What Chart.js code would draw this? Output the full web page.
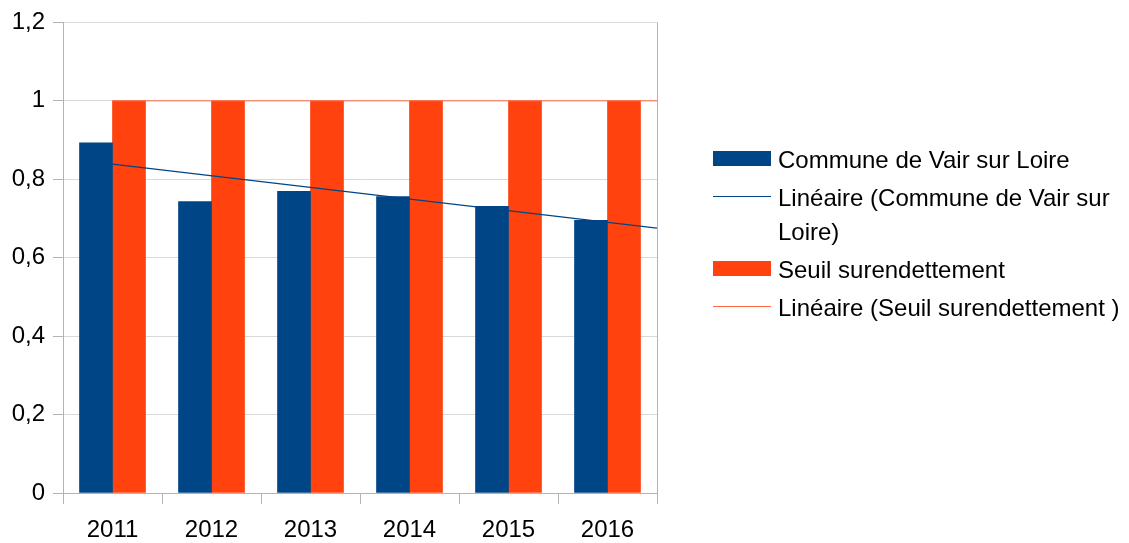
<!DOCTYPE html>
<html>
<head>
<meta charset="utf-8">
<script src="https://cdn.jsdelivr.net/npm/chart.js@4"></script>
<style>
  html, body { margin: 0; padding: 0; background: #fff; }
  #wrap { width: 1129px; height: 543px; }
</style>
</head>
<body>
<div id="wrap"><canvas id="ratio-canvas" width="1129" height="543"></canvas></div>
<script>
var years = ['2011', '2012', '2013', '2014', '2015', '2016'];
var communeValues = [0.893, 0.743, 0.769, 0.756, 0.731, 0.695];
var seuilValues = [1, 1, 1, 1, 1, 1];
var yTickLabels = ['0', '0,2', '0,4', '0,6', '0,8', '1', '1,2'];

var labelCommune = 'Commune de Vair sur Loire';
var labelSeuil = 'Seuil surendettement';
var labelTrendCommune = 'Linéaire (Commune de Vair sur Loire)';
var labelTrendSeuil = 'Linéaire (Seuil surendettement )';

var blue = '#004586';
var orange = '#ff420e';
var trendOrange = '#ff6a45';
var axisGrey = '#b3b3b3';
var gridGrey = '#d9d9d9';
var fontFamily = '"Liberation Sans", Arial, sans-serif';
var fontSize = 24;

// least squares trend, x = 1..n like the spreadsheet does
function linearTrend(values) {
    var n = values.length, sx = 0, sy = 0, sxy = 0, sxx = 0;
    for (var i = 0; i < n; i++) {
        var x = i + 1;
        sx += x; sy += values[i]; sxy += x * values[i]; sxx += x * x;
    }
    var slope = (n * sxy - sx * sy) / (n * sxx - sx * sx);
    var intercept = (sy - slope * sx) / n;
    var endX = n + 0.5;
    return [{x: 1, y: intercept + slope}, {x: endX, y: intercept + slope * endX}];
}

var legendItems = [
    {type: 'box', color: blue, text: labelCommune},
    {type: 'line', color: blue, text: labelTrendCommune},
    {type: 'box', color: orange, text: labelSeuil},
    {type: 'line', color: trendOrange, text: labelTrendSeuil}
];

function wrapText(ctx, text, maxWidth) {
    var words = text.split(' '), lines = [], cur = '';
    words.forEach(function(w) {
        var test = cur ? cur + ' ' + w : w;
        if (cur && ctx.measureText(test).width > maxWidth) {
            lines.push(cur);
            cur = w;
        } else {
            cur = test;
        }
    });
    if (cur) lines.push(cur);
    return lines;
}

var sideLegend = {
    id: 'sideLegend',
    afterDraw: function(chart) {
        var ctx = chart.ctx;
        var area = chart.chartArea;
        var symX = area.right + 56;
        var symW = 58;
        var textX = symX + symW + 7;
        var maxW = chart.width - textX - 2;
        var y = 161;
        ctx.save();
        ctx.font = fontSize + 'px ' + fontFamily;
        ctx.textBaseline = 'middle';
        legendItems.forEach(function(item) {
            if (item.type === 'box') {
                ctx.fillStyle = item.color;
                ctx.fillRect(symX, y - 10, symW, 15);
            } else {
                ctx.strokeStyle = item.color;
                ctx.lineWidth = 1;
                ctx.beginPath();
                ctx.moveTo(symX, Math.round(y) - 2.5);
                ctx.lineTo(symX + symW, Math.round(y) - 2.5);
                ctx.stroke();
            }
            ctx.fillStyle = '#000';
            var lines = wrapText(ctx, item.text, maxW);
            lines.forEach(function(line, i) {
                ctx.fillText(line, textX, y + i * 34);
            });
            y += (lines.length - 1) * 34 + 38;
        });
        ctx.restore();
    }
};

var rightFrame = {
    id: 'rightFrame',
    beforeDatasetsDraw: function(chart) {
        var ctx = chart.ctx, a = chart.chartArea;
        ctx.save();
        ctx.strokeStyle = axisGrey;
        ctx.lineWidth = 1;
        ctx.beginPath();
        ctx.moveTo(a.right + 0.5, a.top);
        ctx.lineTo(a.right + 0.5, a.bottom);
        ctx.stroke();
        ctx.restore();
    }
};

var ratioCanvas = document.getElementById('ratio-canvas').getContext('2d');

var ratioChart = new Chart(ratioCanvas, {
    type: 'bar',
    data: {
        labels: years,
        datasets: [
            {
                type: 'line',
                label: labelTrendCommune,
                data: linearTrend(communeValues),
                xAxisID: 'xt',
                borderColor: blue,
                borderWidth: 1.3,
                pointRadius: 0,
                order: 0
            },
            {
                type: 'line',
                label: labelTrendSeuil,
                data: linearTrend(seuilValues),
                xAxisID: 'xt',
                borderColor: trendOrange,
                borderWidth: 1,
                pointRadius: 0,
                order: 0
            },
            {
                label: labelCommune,
                data: communeValues,
                backgroundColor: blue,
                borderWidth: 0,
                barThickness: 33,
                order: 1
            },
            {
                label: labelSeuil,
                data: seuilValues,
                backgroundColor: orange,
                borderWidth: 0,
                barThickness: 33,
                order: 1
            }
        ]
    },
    options: {
        responsive: false,
        animation: false,
        devicePixelRatio: 1,
        layout: {
            padding: {left: 0, top: 20, right: 472, bottom: 0}
        },
        scales: {
            x: {
                grid: {
                    drawOnChartArea: false,
                    offset: true,
                    tickColor: axisGrey,
                    tickLength: 11
                },
                border: {color: axisGrey},
                ticks: {
                    color: '#000',
                    padding: 12,
                    font: {family: fontFamily, size: fontSize}
                },
                afterFit: function(scale) { scale.height = 50; }
            },
            xt: {
                type: 'linear',
                display: false,
                offset: false,
                min: 0.5,
                max: 6.5
            },
            y: {
                min: 0,
                max: 1.2,
                grid: {
                    color: gridGrey,
                    tickColor: axisGrey,
                    tickLength: 10
                },
                border: {color: axisGrey},
                ticks: {
                    stepSize: 0.2,
                    color: '#000',
                    padding: 8,
                    font: {family: fontFamily, size: fontSize},
                    callback: function(value, index) {
                        return yTickLabels[index];
                    }
                },
                afterFit: function(scale) { scale.width = 63; }
            }
        },
        plugins: {
            legend: {display: false},
            tooltip: {enabled: false}
        }
    },
    plugins: [rightFrame, sideLegend]
});
</script>
</body>
</html>
